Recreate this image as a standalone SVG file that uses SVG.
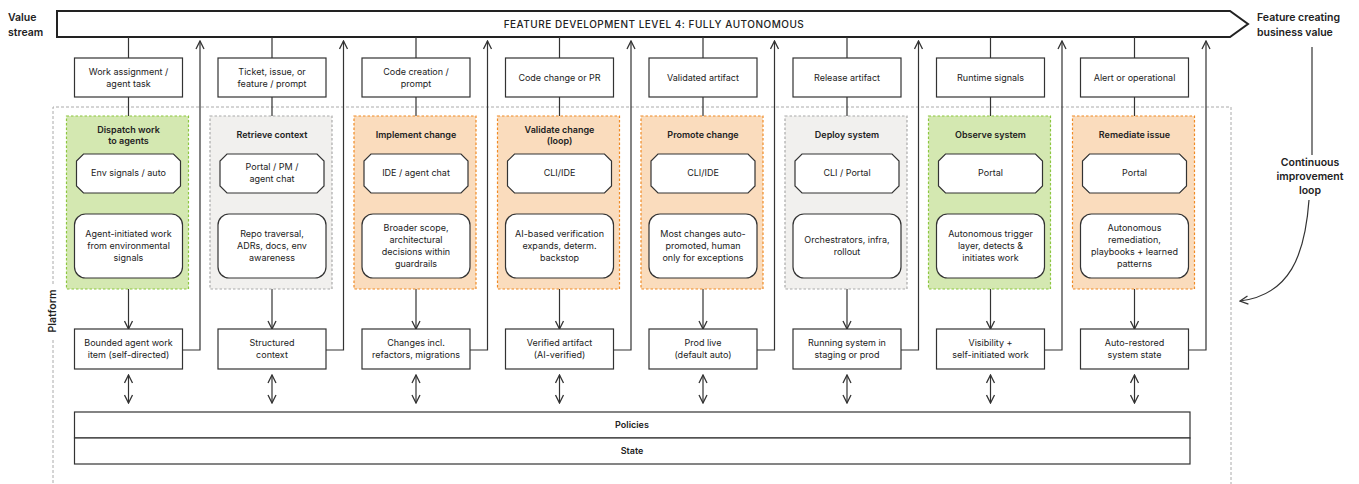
<svg xmlns="http://www.w3.org/2000/svg" width="1359" height="484" viewBox="0 0 1359 484">
  <style>
    text { font-family: Inter, "Noto Sans", "Liberation Sans", sans-serif; fill: #222; }
    .t { font-size: 9px; text-anchor: middle; }
    .h { font-size: 9px; font-weight: 600; text-anchor: middle; }
    .lbl { font-size: 10.5px; font-weight: 600; }
    .box { fill: #fff; stroke: #333; stroke-width: 1.2; }
    .oct { fill: #fff; stroke: #333; stroke-width: 1.2; }
    .green { fill: #d4e8b1; stroke: #8cc63f; stroke-width: 1.2; stroke-dasharray: 2.5 2; }
    .orange { fill: #fadcbd; stroke: #f08a24; stroke-width: 1.2; stroke-dasharray: 2.5 2; }
    .gray { fill: #f1f0ee; stroke: #aaa; stroke-width: 1.2; stroke-dasharray: 2.5 2; }
    .ln { fill: none; stroke: #333; stroke-width: 1.2; }
    .arr { fill: none; stroke: #333; stroke-width: 1.2; marker-end: url(#head); }
    .dbl { fill: none; stroke: #333; stroke-width: 1.2; marker-start: url(#headS); marker-end: url(#head); }
  </style>
  <defs>
    <marker id="head" viewBox="0 0 10 10" refX="9" refY="5" markerWidth="10" markerHeight="10" markerUnits="userSpaceOnUse" orient="auto">
      <path d="M1 1 L9 5 L1 9" fill="none" stroke="#333" stroke-width="1.3"/>
    </marker>
    <marker id="headS" viewBox="0 0 10 10" refX="9" refY="5" markerWidth="10" markerHeight="10" markerUnits="userSpaceOnUse" orient="auto-start-reverse">
      <path d="M1 1 L9 5 L1 9" fill="none" stroke="#333" stroke-width="1.3"/>
    </marker>
  </defs>

  <!-- platform boundary -->
  <g id="platform">
    <path d="M53 284 V107 H1231 V484 M53 340 V484" fill="none" stroke="#aaa" stroke-width="1" stroke-dasharray="3 2"/>
    <text class="lbl" transform="translate(56 311) rotate(-90)" text-anchor="middle" font-size="10">Platform</text>
  </g>

  <!-- value stream bar -->
  <g id="value-stream">
    <path d="M57 11 H1230 L1248 24 L1230 37 H57 Z" fill="#fff" stroke="#222" stroke-width="2"/>
    <text x="654" y="27.5" text-anchor="middle" font-size="10" font-weight="500" letter-spacing="0.5">FEATURE DEVELOPMENT LEVEL 4: FULLY AUTONOMOUS</text>
    <text class="lbl" x="8" y="21">Value</text>
    <text class="lbl" x="8" y="36">stream</text>
    <text class="lbl" x="1257" y="21">Feature creating</text>
    <text class="lbl" x="1257" y="36">business value</text>
  </g>

  <!-- connectors -->
  <g id="connectors">
    <!-- value bar to inputs, inputs to stages, stages to outputs -->
    <path class="ln" d="M128.5 37 V58 M128.5 97 V116 M128.5 193 V214"/>
    <path class="ln" d="M272 37 V58 M272 97 V116 M272 193 V214"/>
    <path class="ln" d="M416 37 V58 M416 97 V116 M416 193 V214"/>
    <path class="ln" d="M559.5 37 V58 M559.5 97 V116 M559.5 193 V214"/>
    <path class="ln" d="M703 37 V58 M703 97 V116 M703 193 V214"/>
    <path class="ln" d="M847 37 V58 M847 97 V116 M847 193 V214"/>
    <path class="ln" d="M990.5 37 V58 M990.5 97 V116 M990.5 193 V214"/>
    <path class="ln" d="M1134.5 37 V58 M1134.5 97 V116 M1134.5 193 V214"/>

    <path class="arr" d="M128.5 289 V329"/>
    <path class="arr" d="M272 289 V329"/>
    <path class="arr" d="M416 289 V329"/>
    <path class="arr" d="M559.5 289 V329"/>
    <path class="arr" d="M703 289 V329"/>
    <path class="arr" d="M847 289 V329"/>
    <path class="arr" d="M990.5 289 V329"/>
    <path class="arr" d="M1134.5 289 V329"/>

    <!-- outputs feed back up to the value stream -->
    <path class="arr" d="M182.5 350 H200 V41"/>
    <path class="arr" d="M326 350 H343.5 V41"/>
    <path class="arr" d="M470 350 H487.5 V41"/>
    <path class="arr" d="M613.5 350 H631 V41"/>
    <path class="arr" d="M757 350 H774.5 V41"/>
    <path class="arr" d="M901 350 H918.5 V41"/>
    <path class="arr" d="M1044.5 350 H1062 V41"/>
    <path class="arr" d="M1188.5 350 H1206 V41"/>

    <!-- outputs to policies / state -->
    <path class="dbl" d="M128.5 375 V403"/>
    <path class="dbl" d="M272 375 V403"/>
    <path class="dbl" d="M416 375 V403"/>
    <path class="dbl" d="M559.5 375 V403"/>
    <path class="dbl" d="M703 375 V403"/>
    <path class="dbl" d="M847 375 V403"/>
    <path class="dbl" d="M990.5 375 V403"/>
    <path class="dbl" d="M1134.5 375 V403"/>

    <!-- continuous improvement loop -->
    <path class="ln" d="M1312 47 V155"/>
    <path class="arr" d="M1309 200 C1305 255 1290 295 1240 301"/>
  </g>
  <text class="lbl" x="1310" y="166" text-anchor="middle">Continuous</text>
  <text class="lbl" x="1310" y="180" text-anchor="middle">improvement</text>
  <text class="lbl" x="1310" y="194" text-anchor="middle">loop</text>

  <!-- stage 1 -->
  <g id="dispatch">
    <rect class="box" x="74.5" y="58" width="108" height="39"/>
    <text class="t" x="128.5" y="75">Work assignment /</text>
    <text class="t" x="128.5" y="87">agent task</text>
    <rect class="green" x="66.5" y="116" width="122" height="173"/>
    <text class="h" x="128.5" y="133">Dispatch work</text>
    <text class="h" x="128.5" y="144">to agents</text>
    <path class="oct" d="M83.5 154 H173.5 L180.5 161 V186 L173.5 193 H83.5 L76.5 186 V161 Z"/>
    <text class="t" x="128.5" y="176">Env signals / auto</text>
    <rect class="box" x="74.5" y="214" width="108" height="64" rx="11"/>
    <text class="t" x="128.5" y="237">Agent-initiated work</text>
    <text class="t" x="128.5" y="249">from environmental</text>
    <text class="t" x="128.5" y="261">signals</text>
    <rect class="box" x="74.5" y="329" width="108" height="40"/>
    <text class="t" x="128.5" y="346">Bounded agent work</text>
    <text class="t" x="128.5" y="358">item (self-directed)</text>
  </g>

  <!-- stage 2 -->
  <g id="retrieve">
    <rect class="box" x="218" y="58" width="108" height="39"/>
    <text class="t" x="272" y="75">Ticket, issue, or</text>
    <text class="t" x="272" y="87">feature / prompt</text>
    <rect class="gray" x="210" y="116" width="122" height="173"/>
    <text class="h" x="272" y="138">Retrieve context</text>
    <path class="oct" d="M227 154 H317 L324 161 V186 L317 193 H227 L220 186 V161 Z"/>
    <text class="t" x="272" y="170">Portal / PM /</text>
    <text class="t" x="272" y="182">agent chat</text>
    <rect class="box" x="218" y="214" width="108" height="64" rx="11"/>
    <text class="t" x="272" y="237">Repo traversal,</text>
    <text class="t" x="272" y="249">ADRs, docs, env</text>
    <text class="t" x="272" y="261">awareness</text>
    <rect class="box" x="218" y="329" width="108" height="40"/>
    <text class="t" x="272" y="346">Structured</text>
    <text class="t" x="272" y="358">context</text>
  </g>

  <!-- stage 3 -->
  <g id="implement">
    <rect class="box" x="362" y="58" width="108" height="39"/>
    <text class="t" x="416" y="75">Code creation /</text>
    <text class="t" x="416" y="87">prompt</text>
    <rect class="orange" x="354" y="116" width="122" height="173"/>
    <text class="h" x="416" y="138">Implement change</text>
    <path class="oct" d="M371 154 H461 L468 161 V186 L461 193 H371 L364 186 V161 Z"/>
    <text class="t" x="416" y="176">IDE / agent chat</text>
    <rect class="box" x="362" y="214" width="108" height="64" rx="11"/>
    <text class="t" x="416" y="231">Broader scope,</text>
    <text class="t" x="416" y="243">architectural</text>
    <text class="t" x="416" y="255">decisions within</text>
    <text class="t" x="416" y="267">guardrails</text>
    <rect class="box" x="362" y="329" width="108" height="40"/>
    <text class="t" x="416" y="346">Changes incl.</text>
    <text class="t" x="416" y="358">refactors, migrations</text>
  </g>

  <!-- stage 4 -->
  <g id="validate">
    <rect class="box" x="505.5" y="58" width="108" height="39"/>
    <text class="t" x="559.5" y="81">Code change or PR</text>
    <rect class="orange" x="497.5" y="116" width="122" height="173"/>
    <text class="h" x="559.5" y="133">Validate change</text>
    <text class="h" x="559.5" y="144">(loop)</text>
    <path class="oct" d="M514.5 154 H604.5 L611.5 161 V186 L604.5 193 H514.5 L507.5 186 V161 Z"/>
    <text class="t" x="559.5" y="176">CLI/IDE</text>
    <rect class="box" x="505.5" y="214" width="108" height="64" rx="11"/>
    <text class="t" x="559.5" y="237">AI-based verification</text>
    <text class="t" x="559.5" y="249">expands, determ.</text>
    <text class="t" x="559.5" y="261">backstop</text>
    <rect class="box" x="505.5" y="329" width="108" height="40"/>
    <text class="t" x="559.5" y="346">Verified artifact</text>
    <text class="t" x="559.5" y="358">(AI-verified)</text>
  </g>

  <!-- stage 5 -->
  <g id="promote">
    <rect class="box" x="649" y="58" width="108" height="39"/>
    <text class="t" x="703" y="81">Validated artifact</text>
    <rect class="orange" x="641" y="116" width="122" height="173"/>
    <text class="h" x="703" y="138">Promote change</text>
    <path class="oct" d="M658 154 H748 L755 161 V186 L748 193 H658 L651 186 V161 Z"/>
    <text class="t" x="703" y="176">CLI/IDE</text>
    <rect class="box" x="649" y="214" width="108" height="64" rx="11"/>
    <text class="t" x="703" y="237">Most changes auto-</text>
    <text class="t" x="703" y="249">promoted, human</text>
    <text class="t" x="703" y="261">only for exceptions</text>
    <rect class="box" x="649" y="329" width="108" height="40"/>
    <text class="t" x="703" y="346">Prod live</text>
    <text class="t" x="703" y="358">(default auto)</text>
  </g>

  <!-- stage 6 -->
  <g id="deploy">
    <rect class="box" x="793" y="58" width="108" height="39"/>
    <text class="t" x="847" y="81">Release artifact</text>
    <rect class="gray" x="785" y="116" width="122" height="173"/>
    <text class="h" x="847" y="138">Deploy system</text>
    <path class="oct" d="M802 154 H892 L899 161 V186 L892 193 H802 L795 186 V161 Z"/>
    <text class="t" x="847" y="176">CLI / Portal</text>
    <rect class="box" x="793" y="214" width="108" height="64" rx="11"/>
    <text class="t" x="847" y="243">Orchestrators, infra,</text>
    <text class="t" x="847" y="255">rollout</text>
    <rect class="box" x="793" y="329" width="108" height="40"/>
    <text class="t" x="847" y="346">Running system in</text>
    <text class="t" x="847" y="358">staging or prod</text>
  </g>

  <!-- stage 7 -->
  <g id="observe">
    <rect class="box" x="936.5" y="58" width="108" height="39"/>
    <text class="t" x="990.5" y="81">Runtime signals</text>
    <rect class="green" x="928.5" y="116" width="122" height="173"/>
    <text class="h" x="990.5" y="138">Observe system</text>
    <path class="oct" d="M945.5 154 H1035.5 L1042.5 161 V186 L1035.5 193 H945.5 L938.5 186 V161 Z"/>
    <text class="t" x="990.5" y="176">Portal</text>
    <rect class="box" x="936.5" y="214" width="108" height="64" rx="11"/>
    <text class="t" x="990.5" y="237">Autonomous trigger</text>
    <text class="t" x="990.5" y="249">layer, detects &amp;</text>
    <text class="t" x="990.5" y="261">initiates work</text>
    <rect class="box" x="936.5" y="329" width="108" height="40"/>
    <text class="t" x="990.5" y="346">Visibility +</text>
    <text class="t" x="990.5" y="358">self-initiated work</text>
  </g>

  <!-- stage 8 -->
  <g id="remediate">
    <rect class="box" x="1080.5" y="58" width="108" height="39"/>
    <text class="t" x="1134.5" y="81">Alert or operational</text>
    <rect class="orange" x="1072.5" y="116" width="122" height="173"/>
    <text class="h" x="1134.5" y="138">Remediate issue</text>
    <path class="oct" d="M1089.5 154 H1179.5 L1186.5 161 V186 L1179.5 193 H1089.5 L1082.5 186 V161 Z"/>
    <text class="t" x="1134.5" y="176">Portal</text>
    <rect class="box" x="1080.5" y="214" width="108" height="64" rx="11"/>
    <text class="t" x="1134.5" y="231">Autonomous</text>
    <text class="t" x="1134.5" y="243">remediation,</text>
    <text class="t" x="1134.5" y="255">playbooks + learned</text>
    <text class="t" x="1134.5" y="267">patterns</text>
    <rect class="box" x="1080.5" y="329" width="108" height="40"/>
    <text class="t" x="1134.5" y="346">Auto-restored</text>
    <text class="t" x="1134.5" y="358">system state</text>
  </g>

  <!-- shared platform layers -->
  <g id="policies">
    <rect class="box" x="74.5" y="412" width="1115.5" height="26"/>
    <text class="h" x="632" y="428">Policies</text>
  </g>
  <g id="state">
    <rect class="box" x="74.5" y="438" width="1115.5" height="26"/>
    <text class="h" x="632" y="454">State</text>
  </g>
</svg>
